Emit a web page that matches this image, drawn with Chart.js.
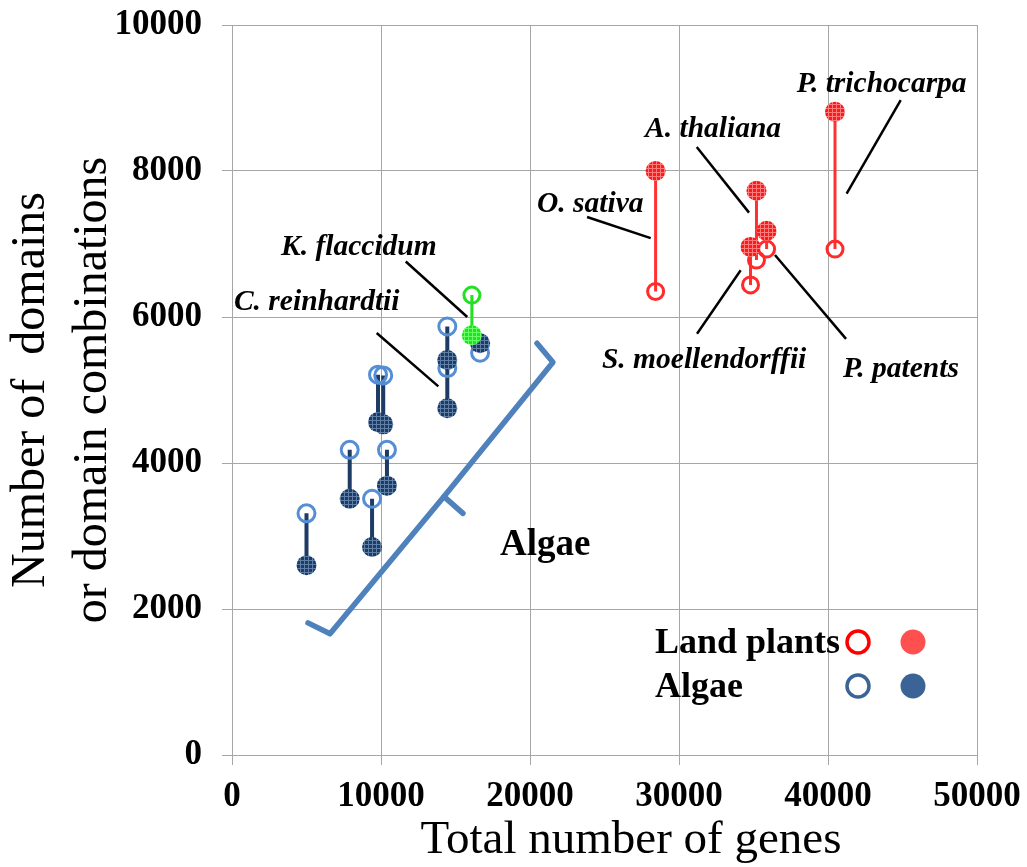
<!DOCTYPE html>
<html lang="en">
<head>
    <meta charset="UTF-8"/>
    <title>Domains vs genes</title>
    <script src="https://cdn.jsdelivr.net/npm/chart.js"></script>
    <style>
        body { margin: 0; background: white; }
        canvas { display: block; }
    </style>
</head>
<body>
    <canvas id='chart' width='1027' height='867'></canvas>

    <script>
        // algae: total genes, open-circle value, filled-circle value
        const algaeGenes  = [5000, 7900, 9400, 10400, 9800, 10150, 14450, 14450, 16650];
        const algaeOpen   = [3310, 4180, 3510, 4180, 5210, 5200, 5300, 5870, 5510];
        const algaeFilled = [2600, 3510, 2850, 3690, 4560, 4530, 4750, 5410, 5640];

        // K. flaccidum (green)
        const kflGenes  = [16100];
        const kflOpen   = [6300];
        const kflFilled = [5750];

        // land plants
        const landNames  = ['O. sativa', 'A. thaliana', 'P. patents', 'S. moellendorffii', 'P. trichocarpa'];
        const landGenes  = [28430, 35200, 35880, 34800, 40470];
        const landOpen   = [6350, 6780, 6930, 6440, 6930];
        const landFilled = [8000, 7730, 7180, 6960, 8810];

        const xTicks = [0, 10000, 20000, 30000, 40000, 50000];
        const yTicks = [0, 2000, 4000, 6000, 8000, 10000];

        // species labels: text anchor (left, baseline) and leader line, in data units
        const notes = [
            { text: 'P. trichocarpa',    x: 37900, y: 9080, from: [44880, 8970], to: [41250, 7690] },
            { text: 'A. thaliana',       x: 27720, y: 8470, from: [31190, 8330], to: [34700, 7430] },
            { text: 'O. sativa',         x: 20470, y: 7440, from: [23830, 7370], to: [28100, 7080] },
            { text: 'S. moellendorffii', x: 24830, y: 5300, from: [31210, 5770], to: [34140, 6640] },
            { text: 'P. patents',        x: 41010, y: 5180, from: [36440, 6850], to: [41210, 5700] },
            { text: 'K. flaccidum',      x: 3290,  y: 6850, from: [11660, 6760], to: [15790, 6000] },
            { text: 'C. reinhardtii',    x: 130,   y: 6100, from: [9710, 5780],  to: [13850, 5050] }
        ];

        // curly bracket round the algae, in data units
        const braceMain = [[5100, 1810], [6580, 1660], [14230, 3540], [21540, 5380], [20470, 5640]];
        const braceTip  = [[14230, 3540], [15500, 3310]];
        const braceText = { text: 'Algae', x: 17990, y: 2740 };

        const xTitle = 'Total number of genes';
        const yTitle = ['Number of  domains', 'or domain combinations'];

        const FONT = "'Liberation Serif', 'Times New Roman', serif";

        const ctx = document.getElementById('chart').getContext('2d');

        function hatch(base, line) {
            const c = document.createElement('canvas');
            c.width = 4; c.height = 4;
            const g = c.getContext('2d');
            g.fillStyle = base; g.fillRect(0, 0, 4, 4);
            g.fillStyle = line; g.fillRect(0, 0, 4, 1); g.fillRect(0, 0, 1, 4);
            return ctx.createPattern(c, 'repeat');
        }
        const navyHatch = hatch('#1d3b63', '#5f7fa6');
        const redHatch = hatch('#ff1a1a', '#ff7a7a');
        const greenHatch = hatch('#22e022', '#66ff66');

        function pts(xs, ys) { return xs.map((x, i) => ({ x: x, y: ys[i] })); }
        function stems(xs, a, b) {
            const out = [];
            xs.forEach((x, i) => { out.push({ x: x, y: a[i] }, { x: x, y: b[i] }, { x: x, y: null }); });
            return out;
        }

        const overlay = {
            id: 'overlay',
            afterDatasetsDraw(chart) {
                const c = chart.ctx, sx = chart.scales.x, sy = chart.scales.y;
                const px = v => sx.getPixelForValue(v), py = v => sy.getPixelForValue(v);
                const a = chart.chartArea;
                c.save();
                // brace
                c.strokeStyle = '#4f81bd';
                c.lineWidth = 5.5;
                c.lineJoin = 'round';
                c.lineCap = 'round';
                [braceMain, braceTip].forEach(path => {
                    c.beginPath();
                    path.forEach((p, i) => i ? c.lineTo(px(p[0]), py(p[1])) : c.moveTo(px(p[0]), py(p[1])));
                    c.stroke();
                });
                c.fillStyle = 'black';
                c.font = 'bold 37px ' + FONT;
                c.textBaseline = 'alphabetic';
                c.fillText(braceText.text, px(braceText.x), py(braceText.y));

                // species labels
                c.strokeStyle = 'black';
                c.lineWidth = 2.5;
                c.lineCap = 'butt';
                c.font = 'italic bold 29.5px ' + FONT;
                notes.forEach(n => {
                    c.fillText(n.text, px(n.x), py(n.y));
                    c.beginPath();
                    c.moveTo(px(n.from[0]), py(n.from[1]));
                    c.lineTo(px(n.to[0]), py(n.to[1]));
                    c.stroke();
                });

                // x axis title (sits right of centre in the original)
                c.font = '47px ' + FONT;
                c.textAlign = 'center';
                c.fillText(xTitle, a.left + 399, a.bottom + 98);
                c.textAlign = 'left';

                // legend
                const lx = a.left + 423, c1 = a.left + 626, c2 = a.left + 681;
                const rows = [
                    { label: 'Land plants', y: a.top + 617, open: '#ff0000', fill: '#ff5050' },
                    { label: 'Algae', y: a.top + 661, open: '#3b6496', fill: '#3b6496' }
                ];
                c.font = 'bold 36px ' + FONT;
                c.textBaseline = 'middle';
                rows.forEach(r => {
                    c.fillStyle = 'black';
                    c.fillText(r.label, lx, r.y + 2);
                    c.beginPath();
                    c.arc(c1, r.y, 11, 0, Math.PI * 2);
                    c.lineWidth = 3.5;
                    c.strokeStyle = r.open;
                    c.stroke();
                    c.beginPath();
                    c.arc(c2, r.y, 12.5, 0, Math.PI * 2);
                    c.fillStyle = r.fill;
                    c.fill();
                });
                c.restore();
            }
        };

        new Chart(ctx, {
            type: 'scatter',
            data: {
                datasets: [
                    { type: 'line', data: stems(algaeGenes, algaeOpen, algaeFilled), borderColor: '#1d3b63', borderWidth: 4, pointRadius: 0, spanGaps: false, order: 5 },
                    { type: 'line', data: stems(landGenes, landOpen, landFilled), borderColor: '#ff3030', borderWidth: 3, pointRadius: 0, spanGaps: false, order: 5 },
                    { type: 'line', data: stems(kflGenes, kflOpen, kflFilled), borderColor: '#22e022', borderWidth: 3, pointRadius: 0, spanGaps: false, order: 1 },
                    { data: pts(algaeGenes, algaeOpen), pointRadius: 8.5, borderWidth: 3, borderColor: '#558ed5', backgroundColor: 'rgba(255,255,255,0)', order: 3 },
                    { data: pts(algaeGenes, algaeFilled), pointRadius: 10, borderWidth: 0, backgroundColor: navyHatch, order: 2 },
                    { data: pts(landGenes, landOpen), pointRadius: 8, borderWidth: 3, borderColor: '#ff2a2a', backgroundColor: 'rgba(255,255,255,0)', order: 3 },
                    { data: pts(landGenes, landFilled), pointRadius: 10, borderWidth: 0, backgroundColor: redHatch, order: 2 },
                    { data: pts(kflGenes, kflOpen), pointRadius: 8, borderWidth: 3, borderColor: '#22e022', backgroundColor: 'rgba(255,255,255,0)', order: 0 },
                    { data: pts(kflGenes, kflFilled), pointRadius: 10, borderWidth: 0, backgroundColor: greenHatch, order: 0 }
                ]
            },
            options: {
                responsive: false,
                animation: false,
                devicePixelRatio: 1,
                layout: { padding: { top: 25, right: 50, left: 0, bottom: 0 } },
                plugins: { legend: { display: false }, tooltip: { enabled: false } },
                scales: {
                    x: {
                        type: 'linear', min: 0, max: 50000,
                        afterFit: s => { s.height = 112; s.paddingLeft = 0; s.paddingRight = 0; },
                        afterBuildTicks: s => { s.ticks = xTicks.map(v => ({ value: v })); },
                        grid: { color: '#a6a6a6', tickLength: 10 },
                        border: { color: '#a6a6a6' },
                        ticks: { autoSkip: false, maxRotation: 0, padding: 11, color: 'black',
                                 font: { family: FONT, size: 35, weight: 'bold' }, callback: v => String(v) }
                    },
                    y: {
                        type: 'linear', min: 0, max: 10000,
                        afterFit: s => { s.width = 232; s.paddingTop = 0; s.paddingBottom = 0; },
                        afterBuildTicks: s => { s.ticks = yTicks.map(v => ({ value: v })); },
                        grid: { color: '#a6a6a6', tickLength: 10 },
                        border: { color: '#a6a6a6' },
                        ticks: { autoSkip: false, padding: 20, color: 'black',
                                 font: { family: FONT, size: 35, weight: 'bold' }, callback: v => String(v) },
                        title: { display: true, text: yTitle, color: 'black',
                                 font: { family: FONT, size: 48, lineHeight: 1.3 }, padding: { top: 0, bottom: 0 } }
                    }
                }
            },
            plugins: [overlay]
        });
    </script>
</body>
</html>
